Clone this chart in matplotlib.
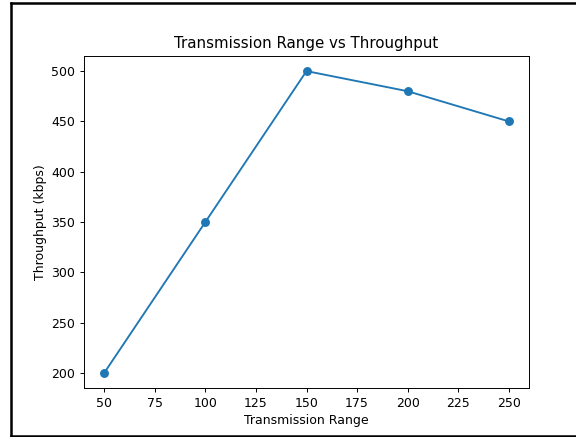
import matplotlib
matplotlib.use("Agg")
import matplotlib.pyplot as plt
from matplotlib.lines import Line2D

# Données
transmission_range = [50, 100, 150, 200, 250]
throughput = [200, 350, 500, 480, 450]

W, H = 576, 437
fig = plt.figure(figsize=(W / 100, H / 100), dpi=100)

# Cadre noir de la capture d'écran (gauche, haut, bas)
x0, y_top, y_bot = 11 / W, 1 - 3 / H, 1 - 436 / H
for xs, ys in [([x0, x0], [y_bot, y_top]),
               ([x0, 1.0], [y_top, y_top]),
               ([x0, 1.0], [y_bot, y_bot])]:
    fig.add_artist(Line2D(xs, ys, transform=fig.transFigure,
                          color="black", linewidth=1.8))

ax = fig.add_axes([84 / W, 1 - 388 / H, (529 - 84) / W, (388 - 56) / H])
ax.plot(transmission_range, throughput, marker="o", color="#1f77b4",
        linewidth=1.35, markersize=5.4)

ax.set_title("Transmission Range vs Throughput", fontsize=10.8, pad=5.5)
ax.set_xlabel("Transmission Range", fontsize=9, labelpad=3)
ax.set_ylabel("Throughput (kbps)", fontsize=9, labelpad=3)
ax.set_xticks([50, 75, 100, 125, 150, 175, 200, 225, 250])
ax.set_yticks([200, 250, 300, 350, 400, 450, 500])
ax.tick_params(labelsize=9, width=0.7, length=3.2, pad=3)
for spine in ax.spines.values():
    spine.set_linewidth(0.7)

fig.savefig("out.png", dpi=100)
plt.close(fig)
